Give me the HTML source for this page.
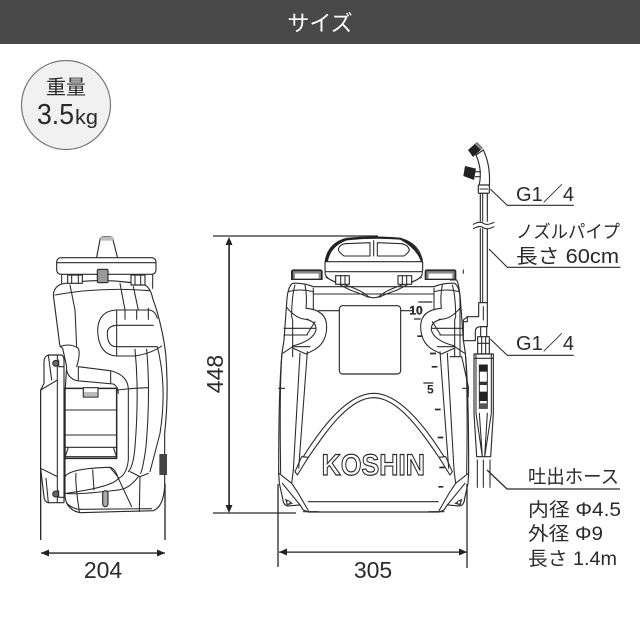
<!DOCTYPE html>
<html><head><meta charset="utf-8"><style>
html,body{margin:0;padding:0;background:#fff}
svg{display:block}
text{font-family:"Liberation Sans","Noto Sans CJK JP",sans-serif;fill:#2a2a2a}
.l{fill:#fff;stroke:#2a2a2a;stroke-width:3.4;stroke-linejoin:round}
.n{fill:none;stroke:#2a2a2a;stroke-width:3.2;stroke-linejoin:round;stroke-linecap:round}
.d{fill:none;stroke:#2a2a2a;stroke-width:1.3}
</style></head><body>
<svg xmlns="http://www.w3.org/2000/svg" width="640" height="640" viewBox="0 0 640 640">
<rect width="640" height="640" fill="#fff"/>
<rect width="640" height="44" fill="#484848"/>
<text x="320" y="31" font-size="22" text-anchor="middle" style="fill:#fff">サイズ</text>
<circle cx="66" cy="105" r="44.5" fill="#f1f1f1" stroke="#777" stroke-width="1.2"/>
<text x="66" y="94" font-size="20" text-anchor="middle">重量</text>
<text x="37" y="124" font-size="29" textLength="37" lengthAdjust="spacingAndGlyphs">3.5</text>
<text x="75" y="124" font-size="20" textLength="23" lengthAdjust="spacingAndGlyphs">kg</text>

<!-- side view -->
<g transform="translate(20 220) scale(.33333)">
<path class="d" style="stroke-width:4" d="M62,510V960M435,790V960"/>
<path class="l" d="M228,122L240,60Q241,50 250,50H270Q278,50 279,60L295,122Z"/>
<path d="M242,50H278L280,62H240Z" fill="#bbb"/>
<rect class="l" x="110" y="113" width="298" height="50" rx="13"/>
<path class="n" d="M112,128H406M125,163V195M398,163V205"/>
<path class="l" d="M100,225Q102,200 125,192Q250,170 375,195Q392,205 398,235L410,270Q430,340 437,400Q447,520 434,640L434,800Q430,860 400,872L180,878Q140,870 135,830V520L140,440L128,385Q118,380 118,365Z"/>
<rect class="l" x="143" y="165" width="44" height="25"/><path class="n" d="M155,165V190M175,165V190"/>
<rect class="l" x="333" y="165" width="42" height="30"/><path class="n" d="M345,165V195M362,165V195"/>
<rect x="232" y="148" width="32" height="40" rx="4" fill="#999" stroke="#2a2a2a" stroke-width="3.4"/>
<path class="n" d="M105,225Q240,200 388,212M150,195L165,270L170,380M120,380Q150,368 175,385M300,190L315,270M340,200L355,270M175,385Q182,400 170,440"/>
<path class="n" d="M290,270H385Q405,270 412,295M290,270Q235,272 233,330Q235,405 290,408H345Q395,400 425,378M290,316H400M290,316Q262,318 262,340Q262,380 290,380H410M290,270V408M315,270V298M350,270V298M385,265V298"/>
<path class="n" d="M345,388Q358,520 345,680Q340,740 325,755M380,388Q392,520 378,680Q370,740 362,760M412,380Q442,500 420,640L390,755"/>
<path class="n" d="M140,450Q145,475 170,482L280,492Q295,500 295,520M175,440L270,452Q325,465 325,510V720Q320,765 295,775M175,440V482M272,452V490M295,510Q330,505 385,503"/>
<rect class="l" x="135" y="505" width="155" height="210" style="stroke-width:4.5"/>
<path class="n" d="M135,570H290M135,645H290M135,682H290M135,710H290M145,682L135,712M280,682L290,712"/>
<rect class="l" x="190" y="503" width="44" height="28"/><path d="M192,516H232V530H192Z" fill="#bbb"/>
<path class="n" d="M135,770Q150,745 270,742Q285,745 295,775Q280,800 140,820M168,760Q165,790 178,875M218,750L222,810M270,742L297,775M295,775L335,860M330,755L360,770L385,760M360,770L358,875M135,820Q170,825 295,810M290,810Q325,810 355,770"/>
<rect x="248" y="812" width="16" height="48" rx="8" fill="#aaa" stroke="#2a2a2a" stroke-width="3.4"/>
<path d="M418,702H441V765H418Z" fill="#444"/>
<path class="n" d="M140,850Q160,868 180,868L395,866"/>
<path class="l" d="M72,425Q72,410 85,405H125Q132,410 132,420V848H85Q72,845 72,830L62,745V510L72,490Z"/>
<path class="n" d="M112,405V848M85,405L95,480M62,510L112,480M62,745L112,770M85,848L78,775"/>
<circle cx="107" cy="430" r="9" fill="#666" stroke="#2a2a2a" stroke-width="3"/>
<circle cx="107" cy="822" r="9" fill="#666" stroke="#2a2a2a" stroke-width="3"/>
<path class="n" d="M116,420V440H132M116,812V832H132"/>
</g>

<!-- front view -->
<g transform="translate(270 220) scale(.33333)">
<path class="l" d="M130,200Q100,188 68,190Q52,200 50,250L42,360L36,400Q26,500 26,760L28,790L38,835Q40,858 55,858L90,855L100,870L115,876H507L522,870L532,855L567,858Q582,858 584,835L594,790L596,760Q596,500 586,400L580,360L572,250Q570,200 554,190Q522,188 492,200Z"/>
<g id="h">
<path class="n" d="M26,505H44M36,400Q28,500 32,760"/>
<path class="n" d="M75,195Q65,230 65,290L68,300V410M105,195Q112,230 108,265M130,205V268M55,215Q90,205 130,215M50,262Q80,300 115,298M42,325H135M42,345H112M38,400L68,380H120"/>
<path class="n" d="M108,265Q170,270 170,320Q170,375 122,395L108,402L70,385M108,298Q140,305 138,330Q130,362 68,378M135,305L110,345"/>
<path class="n" d="M90,400L70,750M112,395L86,745"/>
<path class="n" d="M27,760L65,790L85,820L115,872M37,790L90,855M70,750L65,790"/>
<path class="n" d="M75,755L95,710L115,712L82,765Z"/>
<path d="M45,835L70,850L50,857Z" fill="#444"/>
<circle cx="55" cy="847" r="5" fill="#fff" stroke="#2a2a2a" stroke-width="2.5"/>
<path class="n" d="M100,875H145M100,710C150,630 230,520 311,520M115,712C165,640 235,533 311,533"/>
<path d="M63,180V155Q63,148 70,148H151Q158,148 158,155V180Z" fill="#2a2a2a"/>
<path d="M69,154H152V176H69Z" fill="#fff"/>
<path d="M69,154H152V161H69ZM69,154H75V176H69ZM146,154H152V176H146Z" fill="#888"/>
<path class="n" d="M165,157Q165,175 195,185L240,200Q280,215 295,230Q305,234 311,233"/>
<path class="n" d="M168,172L240,210Q275,222 295,232"/>
<rect class="l" x="197" y="167" width="41" height="26"/>
<path class="n" d="M212,167V193M225,167V193"/>
</g>
<use href="#h" transform="translate(622 0) scale(-1 1)"/>
<path class="n" d="M115,845H505M130,222H490M145,272H208M392,272H430"/>
<path class="l" d="M165,128Q172,70 230,55Q310,47 390,55Q450,70 458,128Z"/>
<path d="M165,128Q172,70 230,55Q310,47 390,53Q445,70 458,128H454Q440,85 390,59Q310,53 230,61Q180,80 173,128Z" fill="#222"/>
<path class="n" d="M222,108Q205,95 205,88Q208,74 225,71L300,68V108ZM322,68L395,71Q415,75 418,90Q416,98 402,108H322ZM311,62V108"/>
<rect class="l" x="165" y="125" width="293" height="30" rx="4"/>
<rect class="l" x="208" y="257" width="184" height="205" rx="10"/>
<path d="M445,248H487V244H445ZM432,299H452V295H432ZM442,351H458V346H442ZM480,403H498V398H480ZM485,443H502V438H485ZM460,491H490V487H460ZM495,571H512V566H495ZM503,655H520V650H503ZM508,745H524V740H508ZM505,803H520V798H505Z" fill="#2a2a2a"/>
<text x="418" y="283" font-size="36" font-weight="bold" stroke="#2a2a2a" stroke-width="1">10</text>
<text x="471" y="521" font-size="36" font-weight="bold">5</text>
<text x="155" y="765" font-size="90" font-weight="bold" textLength="310" lengthAdjust="spacingAndGlyphs" style="fill:#fff;stroke:#2a2a2a;stroke-width:3.5">KOSHIN</text>
</g>

<!-- pipe -->
<g transform="translate(450 130) scale(.33333)">
<path class="n" d="M40,420V430M0,450H20Q30,470 30,520V680M0,680H35L55,770V800"/>
<path class="l" d="M78,75Q98,120 87,168H118Q122,105 100,60Z"/>
<path d="M54,60L81,36L99,54L69,81Z" fill="#222"/>
<path d="M81,36L99,54L92,60L74,42Z" fill="#888"/>
<path d="M45,108L78,116L72,150L40,138Z" fill="#222"/>
<path class="n" d="M76,125H92M76,140H90"/>
<rect class="l" x="85" y="165" width="33" height="25" rx="3"/>
<path class="n" d="M90,177H113"/>
<rect class="l" x="91" y="190" width="21" height="328"/>
<path class="n" d="M98,190V518"/>
<path d="M70,275H132V295H70Z" fill="#fff"/>
<path class="n" d="M70,283Q90,272 100,280T132,277M70,296Q90,285 100,293T132,290"/>
<path class="l" d="M86,518H112V590H92Q76,590 76,605V632H40V570L52,560H86Z"/>
<path class="n" d="M40,575H52V560M100,530V570"/>
<rect class="l" x="92" y="590" width="18" height="32"/>
<rect class="l" x="83" y="620" width="35" height="52"/>
<path class="n" d="M83,640H118M95,620V672M107,620V672"/>
<path class="l" d="M72,672H130V850L122,980H80L72,850Z"/>
<path class="n" d="M72,685H130M78,672V850M124,672V850M78,850L97,980M124,850L104,980M88,850L97,980M112,850L104,980"/>
<rect x="88" y="705" width="24" height="130" fill="#fff" stroke="#2a2a2a" stroke-width="3"/>
<rect x="88" y="705" width="24" height="20" fill="#222"/>
<rect x="88" y="755" width="24" height="10" fill="#333"/>
<rect x="88" y="785" width="24" height="28" fill="#222"/>
<rect x="88" y="820" width="24" height="15" fill="#555"/>
<path class="n" d="M82,990V1072M100,990V1072M120,990V1072"/>
<path class="n" d="M122,178L172,226H370M118,358L172,412H510M122,628L172,676H370"/>
</g>
<path class="d" d="M487,470L507,489H620"/>

<!-- dimensions -->
<path class="d" d="M213,236H378M213,513H296M278,484V567M467,484V568"/>
<path d="M228.3,243H229.9V507H228.3Z" fill="#222"/>
<path d="M229,237L225.5,245H232.5ZM229,513L225.5,505H232.5Z" fill="#222"/>
<path d="M41,552.4H165V553.8H41Z" fill="#222"/>
<path d="M41,553L49,549.5V556.5ZM165,553L157,549.5V556.5Z" fill="#222"/>
<path d="M279,551.5H467V552.8H279Z" fill="#222"/>
<path d="M279,552L287,548.5V555.5ZM467,552L459,548.5V555.5Z" fill="#222"/>
<text transform="translate(223 374) rotate(-90)" font-size="23" text-anchor="middle">448</text>
<text x="103" y="578" font-size="23" text-anchor="middle">204</text>
<text x="373" y="578" font-size="23" text-anchor="middle">305</text>

<text x="516" y="201" font-size="20" textLength="58" lengthAdjust="spacingAndGlyphs">G1／4</text>
<text x="516" y="350" font-size="20" textLength="58" lengthAdjust="spacingAndGlyphs">G1／4</text>
<text x="516" y="238" font-size="18" textLength="104" lengthAdjust="spacingAndGlyphs">ノズルパイプ</text>
<text x="516" y="263" font-size="20" textLength="103" lengthAdjust="spacingAndGlyphs">長さ 60cm</text>
<text x="528" y="483" font-size="19" textLength="91" lengthAdjust="spacingAndGlyphs">吐出ホース</text>
<text x="528" y="516" font-size="19" textLength="93" lengthAdjust="spacingAndGlyphs">内径 Φ4.5</text>
<text x="528" y="540" font-size="19" textLength="75" lengthAdjust="spacingAndGlyphs">外径 Φ9</text>
<text x="528" y="565" font-size="19" textLength="89" lengthAdjust="spacingAndGlyphs">長さ 1.4m</text>
</svg>
</body></html>
